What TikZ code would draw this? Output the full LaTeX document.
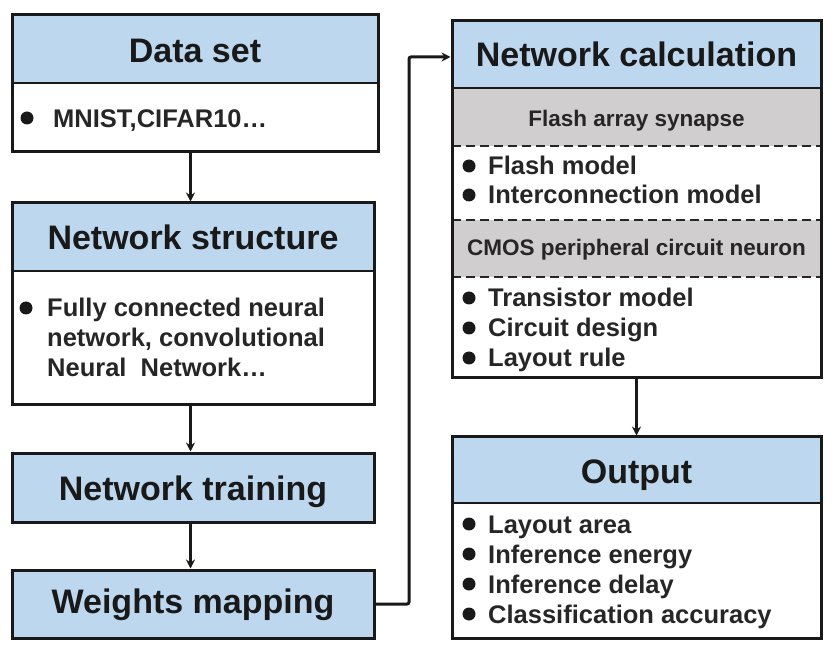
\documentclass[tikz,border=0pt]{standalone}
\usepackage{fontspec}
\setmainfont{Liberation Sans}
\usetikzlibrary{arrows.meta}
\definecolor{headblue}{RGB}{189,215,238}
\definecolor{subgray}{RGB}{208,206,206}
\tikzset{
  frame/.style={draw=black!90, line width=3pt, rectangle, inner sep=0pt},
  sepline/.style={draw=black!90, line width=2.5pt},
  dashsep/.style={draw=black!85, line width=2.5pt, dash pattern=on 9pt off 5pt},
  htext/.style={anchor=base, inner sep=0pt, font=\fontsize{34}{40}\selectfont\bfseries, text=black!90},
  gtext/.style={anchor=base, inner sep=0pt, font=\fontsize{22.5}{27}\selectfont\bfseries, text=black!85},
  itext/.style={anchor=base west, inner sep=0pt, font=\fontsize{25.5}{30}\selectfont\bfseries, text=black!85},
  dot/.style={fill=black!90},
  arr/.style={draw=black!90, line width=3pt, -{Stealth[length=9pt,width=9pt]}},
}
\begin{document}
\begin{tikzpicture}[x=1pt,y=-1pt]
\useasboundingbox (0,0) rectangle (836,652);
% ---- fills
\fill[headblue] (12,15) rectangle (378,83);
\fill[headblue] (12,203) rectangle (374,271);
\fill[headblue] (12,453) rectangle (374,522);
\fill[headblue] (12,570) rectangle (374,638);
\fill[headblue] (452,21) rectangle (821,88);
\fill[subgray] (452,88) rectangle (821,146);
\fill[subgray] (452,220) rectangle (821,277);
\fill[headblue] (452,437) rectangle (821,503);
% ---- separators
\draw[sepline] (12,83) -- (378,83);
\draw[sepline] (12,271) -- (374,271);
\draw[sepline] (452,88) -- (821,88);
\draw[dashsep] (452,146) -- (821,146);
\draw[dashsep] (452,220) -- (821,220);
\draw[dashsep] (452,277) -- (821,277);
\draw[sepline] (452,503) -- (821,503);
% ---- frames
\node[frame, minimum width=366pt, minimum height=137pt] (ds) at (195,83.5) {};
\node[frame, minimum width=362pt, minimum height=202pt] (ns) at (193,304) {};
\node[frame, minimum width=362pt, minimum height=69pt] (nt) at (193,487.5) {};
\node[frame, minimum width=362pt, minimum height=68pt] (wm) at (193,604) {};
\node[frame, minimum width=369pt, minimum height=357pt] (nc) at (636.5,199.5) {};
\node[frame, minimum width=369pt, minimum height=201pt] (out) at (636.5,537.5) {};
% ---- headers
\node[htext] (dsh) at (195,63) {Data set};
\node[htext] (nsh) at (193,250) {Network structure};
\node[htext] (nth) at (193,500) {Network training};
\node[htext] (wmh) at (193,613) {Weights mapping};
\node[htext] (nch) at (636.5,67) {Network calculation};
\node[htext] (outh) at (636.5,483) {Output};
\node[gtext] (fas) at (636.5,127) {Flash array synapse};
\node[gtext] (cmos) at (636.5,256) {CMOS peripheral circuit neuron};
% ---- items, left
\fill[dot] (27,118) circle (6.5pt);
\node[itext] (i1) at (53,128) {MNIST,CIFAR10\ldots};
\fill[dot] (26,308) circle (6.5pt);
\node[itext] (i2) at (47,317) {Fully connected neural};
\node[itext] (i3) at (47,347) {network, convolutional};
\node[itext] (i4) at (47,377) {Neural\ \ Network\ldots};
% ---- items, right
\foreach \y/\t [count=\k] in {175/Flash model, 204/Interconnection model, 307/Transistor model, 337/Circuit design, 367/Layout rule, 533/Layout area, 563/Inference energy, 593/Inference delay, 623/Classification accuracy}{
  \fill[dot] (469,\y-9) circle (6.5pt);
  \node[itext] (r\k) at (488,\y) {\t};
}
% ---- connectors
\draw[arr] ([xshift=-4.5pt]ds.south) -- ([xshift=-2.5pt]ns.north);
\draw[arr] ([xshift=-2.5pt]ns.south) -- ([xshift=-2.5pt]nt.north);
\draw[arr] ([xshift=-2.5pt]nt.south) -- ([xshift=-2.5pt]wm.north);
\coordinate (bend) at (409,57);
\draw[arr, rounded corners=2pt] (wm.east) -| (bend) -- (bend -| nc.west);
\draw[arr] (nc.south) -- (out.north);
\end{tikzpicture}
\end{document}
